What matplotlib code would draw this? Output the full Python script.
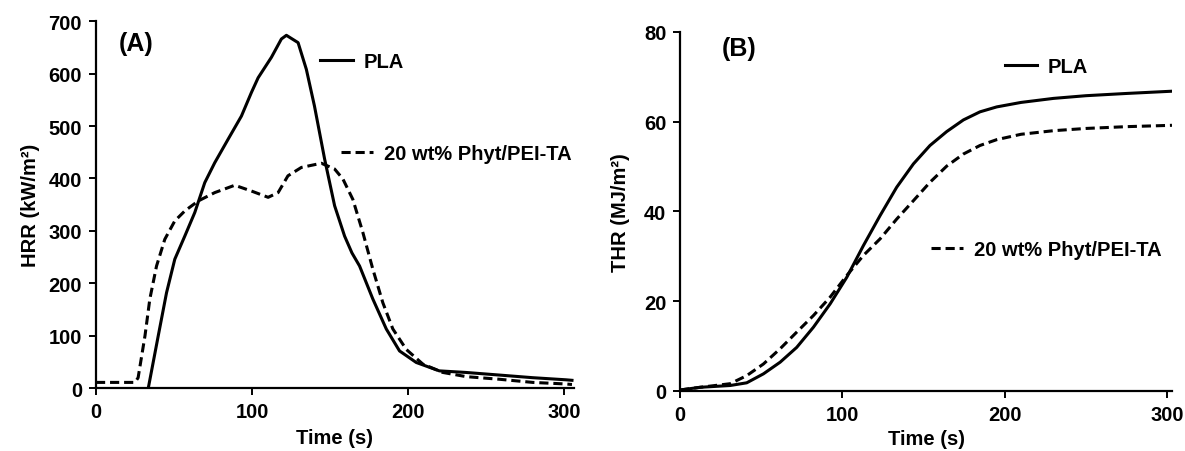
import matplotlib
matplotlib.use('Agg')
import matplotlib.pyplot as plt
from matplotlib.lines import Line2D

plt.rcParams['font.family'] = ['Liberation Sans', 'DejaVu Sans']
plt.rcParams['font.weight'] = 'bold'

# HRR data (A)
hrr_pla_t = [33.5, 39.9, 45.2, 50.5, 56.9, 63.3, 69.7, 76.1, 84.7, 93.2, 99.6, 103.9, 112.4, 118.8,
             122, 129.5, 134.8, 140, 146.5, 152.9, 159.3, 164, 168.9, 177.4, 186, 194.5, 205.2,
             220, 237, 258.5, 279.8, 301, 305]
hrr_pla = [0, 100, 182, 246, 290, 335, 392, 430, 475, 519, 564, 592, 631, 666,
           673, 659, 608, 538, 437, 348, 290, 258, 233, 170, 113, 71, 49,
           33, 30, 25, 20, 16, 15]
hrr_phyt_t = [0, 25, 27, 31.4, 34.5, 38.8, 44.1, 50.5, 56.9, 65.5, 76.1, 88.9, 99.6, 110.3, 116.7,
              123, 131.6, 144.4, 152.9, 158.2, 164.6, 171, 177.4, 183.8, 190.2, 198.8, 209.4,
              222.2, 237.2, 258.5, 279.8, 301, 305]
hrr_phyt = [11, 11, 20, 100, 170, 233, 284, 319, 338, 357, 373, 387, 376, 364, 373,
            405, 421, 429, 418, 399, 360, 297, 227, 163, 113, 74, 46,
            30, 22, 17, 11, 8, 7]

# THR data (B)
thr_pla_t = [0, 12.3, 30.8, 41, 51.3, 61.6, 71.8, 82.1, 92.4, 102.6, 112.9, 123.2, 133.4, 143.7,
             153.9, 164.2, 174.5, 184.7, 195, 210, 230, 250, 275, 303]
thr_pla = [0.2, 0.8, 1.2, 1.8, 3.8, 6.4, 9.7, 14.2, 19.4, 25.3, 32.4, 39.1, 45.4, 50.6,
           54.7, 57.8, 60.4, 62.2, 63.3, 64.3, 65.2, 65.8, 66.3, 66.8]
thr_phyt_t = [0, 12.3, 30.8, 41, 51.3, 61.6, 71.8, 82.1, 92.4, 102.6, 112.9, 123.2, 133.4, 143.7,
              153.9, 164.2, 174.5, 184.7, 195, 210, 230, 250, 275, 303]
thr_phyt = [0.2, 0.8, 1.6, 3.4, 6.0, 9.4, 13.1, 16.8, 20.9, 25.7, 30.2, 33.9, 38.3, 42.4,
            46.5, 50.1, 52.8, 54.7, 56.0, 57.2, 58.0, 58.5, 58.9, 59.2]

label_pla = 'PLA'
label_phyt = '20 wt% Phyt/PEI-TA'

fig = plt.figure(figsize=(11.85, 4.52), dpi=100)
axA = fig.add_axes([0.081, 0.139, 0.403, 0.812])
axB = fig.add_axes([0.574, 0.133, 0.415, 0.794])

dash = (0, (3, 1.6))
axA.plot(hrr_pla_t, hrr_pla, color='black', lw=2.2)
axA.plot(hrr_phyt_t, hrr_phyt, color='black', lw=2.2, ls=dash)
axB.plot(thr_pla_t, thr_pla, color='black', lw=2.2)
axB.plot(thr_phyt_t, thr_phyt, color='black', lw=2.2, ls=dash)

axA.set_xlim(0, 306)
axA.set_ylim(0, 700)
axA.set_yticks(range(0, 701, 100))
axA.set_xticks([0, 100, 200, 300])
axB.set_xlim(0, 303)
axB.set_ylim(0, 80)
axB.set_yticks(range(0, 81, 20))
axB.set_xticks([0, 100, 200, 300])

for ax in (axA, axB):
    for s in ('top', 'right'):
        ax.spines[s].set_visible(False)
    for s in ('left', 'bottom'):
        ax.spines[s].set_linewidth(1.6)
    ax.tick_params(direction='out', length=5, width=1.4, labelsize=14.5, pad=5)
    for lab in ax.get_xticklabels() + ax.get_yticklabels():
        lab.set_fontweight('bold')

axA.set_xlabel('Time (s)', fontsize=14.5, fontweight='bold', labelpad=5)
axB.set_xlabel('Time (s)', fontsize=14.5, fontweight='bold', labelpad=4)
axA.set_ylabel('HRR (kW/m²)', fontsize=14.5, fontweight='bold', labelpad=6)
axB.set_ylabel('THR (MJ/m²)', fontsize=14.5, fontweight='bold', labelpad=10)

axA.text(0.047, 0.94, '(A)', transform=axA.transAxes, fontsize=18, fontweight='bold', va='center')
axB.text(0.085, 0.955, '(B)', transform=axB.transAxes, fontsize=18, fontweight='bold', va='center')

solid = Line2D([], [], color='black', lw=2.2)
dashed = Line2D([], [], color='black', lw=2.2, ls=dash)
leg_kw = dict(frameon=False, handlelength=1.6, handletextpad=0.55, borderpad=0, borderaxespad=0,
              prop={'size': 14.5, 'weight': 'bold'}, loc='center left')

l1 = axA.legend([solid], [label_pla], bbox_to_anchor=(0.47, 0.891), **leg_kw)
axA.add_artist(l1)
axA.legend([dashed], [label_phyt], bbox_to_anchor=(0.513, 0.64), **leg_kw)

l2 = axB.legend([solid], [label_pla], bbox_to_anchor=(0.66, 0.905), **leg_kw)
axB.add_artist(l2)
axB.legend([dashed], [label_phyt], bbox_to_anchor=(0.51, 0.393), **leg_kw)

fig.savefig('out.png', dpi=100)
